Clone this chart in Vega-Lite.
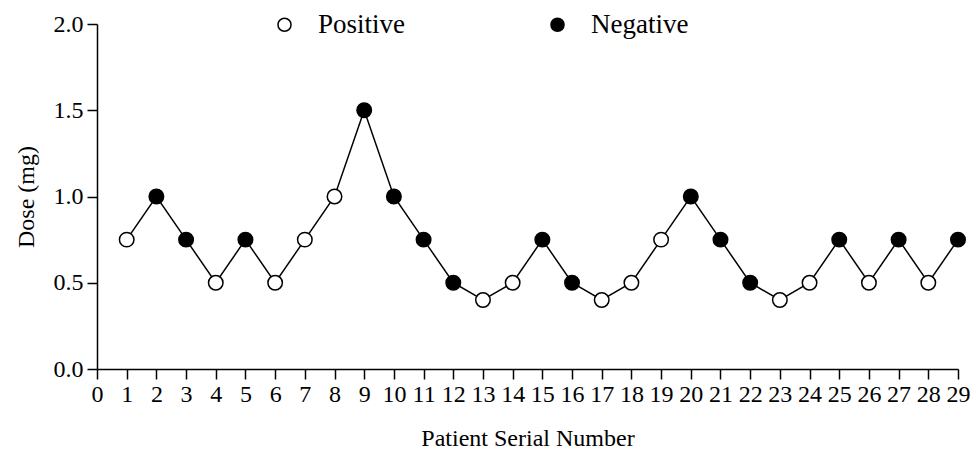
{
  "$schema": "https://vega.github.io/schema/vega-lite/v6.json",
  "width": 861,
  "height": 345,
  "autosize": {"type": "none"},
  "padding": {"left": 97, "top": 24, "right": 13, "bottom": 86},
  "background": "white",
  "config": {
    "view": {"stroke": null},
    "font": "Liberation Serif",
    "axis": {
      "grid": false,
      "domainColor": "black",
      "domainWidth": 1.5,
      "tickColor": "black",
      "tickWidth": 1.5,
      "tickSize": 10,
      "labelFont": "Liberation Serif",
      "labelFontSize": 24,
      "labelColor": "black",
      "titleFont": "Liberation Serif",
      "titleFontSize": 24,
      "titleFontWeight": "normal",
      "titleColor": "black"
    }
  },
  "data": {
    "values": [
      {"patient": 1, "dose": 0.75, "result": "Positive"},
      {"patient": 2, "dose": 1.0, "result": "Negative"},
      {"patient": 3, "dose": 0.75, "result": "Negative"},
      {"patient": 4, "dose": 0.5, "result": "Positive"},
      {"patient": 5, "dose": 0.75, "result": "Negative"},
      {"patient": 6, "dose": 0.5, "result": "Positive"},
      {"patient": 7, "dose": 0.75, "result": "Positive"},
      {"patient": 8, "dose": 1.0, "result": "Positive"},
      {"patient": 9, "dose": 1.5, "result": "Negative"},
      {"patient": 10, "dose": 1.0, "result": "Negative"},
      {"patient": 11, "dose": 0.75, "result": "Negative"},
      {"patient": 12, "dose": 0.5, "result": "Negative"},
      {"patient": 13, "dose": 0.4, "result": "Positive"},
      {"patient": 14, "dose": 0.5, "result": "Positive"},
      {"patient": 15, "dose": 0.75, "result": "Negative"},
      {"patient": 16, "dose": 0.5, "result": "Negative"},
      {"patient": 17, "dose": 0.4, "result": "Positive"},
      {"patient": 18, "dose": 0.5, "result": "Positive"},
      {"patient": 19, "dose": 0.75, "result": "Positive"},
      {"patient": 20, "dose": 1.0, "result": "Negative"},
      {"patient": 21, "dose": 0.75, "result": "Negative"},
      {"patient": 22, "dose": 0.5, "result": "Negative"},
      {"patient": 23, "dose": 0.4, "result": "Positive"},
      {"patient": 24, "dose": 0.5, "result": "Positive"},
      {"patient": 25, "dose": 0.75, "result": "Negative"},
      {"patient": 26, "dose": 0.5, "result": "Positive"},
      {"patient": 27, "dose": 0.75, "result": "Negative"},
      {"patient": 28, "dose": 0.5, "result": "Positive"},
      {"patient": 29, "dose": 0.75, "result": "Negative"}
    ]
  },
  "encoding": {
    "x": {
      "field": "patient",
      "type": "quantitative",
      "scale": {"domain": [0, 29], "nice": false, "zero": false},
      "axis": {
        "title": "Patient Serial Number",
        "values": [0,1,2,3,4,5,6,7,8,9,10,11,12,13,14,15,16,17,18,19,20,21,22,23,24,25,26,27,28,29],
        "labelPadding": 3,
        "titlePadding": 20,
        "labelFlush": false,
        "labelOverlap": false
      }
    },
    "y": {
      "field": "dose",
      "type": "quantitative",
      "scale": {"domain": [0, 2], "nice": false},
      "axis": {
        "title": "Dose (mg)",
        "values": [0, 0.5, 1.0, 1.5, 2.0],
        "format": ".1f",
        "labelPadding": 4,
        "titlePadding": 15,
        "labelFlush": false
      }
    }
  },
  "layer": [
    {
      "mark": {"type": "line", "color": "black", "strokeWidth": 1.5}
    },
    {
      "mark": {"type": "point", "filled": true, "size": 210, "stroke": "black", "strokeWidth": 1.5, "opacity": 1, "shape": "circle"},
      "encoding": {
        "fill": {
          "field": "result",
          "type": "nominal",
          "scale": {"domain": ["Positive", "Negative"], "range": ["white", "black"]},
          "legend": {
            "title": null,
            "orient": "none",
            "direction": "horizontal",
            "legendX": 174,
            "legendY": -13,
            "symbolType": "circle",
            "symbolSize": 170,
            "symbolStrokeColor": "black",
            "symbolStrokeWidth": 1.5,
            "labelFont": "Liberation Serif",
            "labelFontSize": 27,
            "labelColor": "black",
            "labelOffset": 20,
            "columnPadding": 138,
            "symbolOpacity": 1
          }
        }
      }
    }
  ]
}
